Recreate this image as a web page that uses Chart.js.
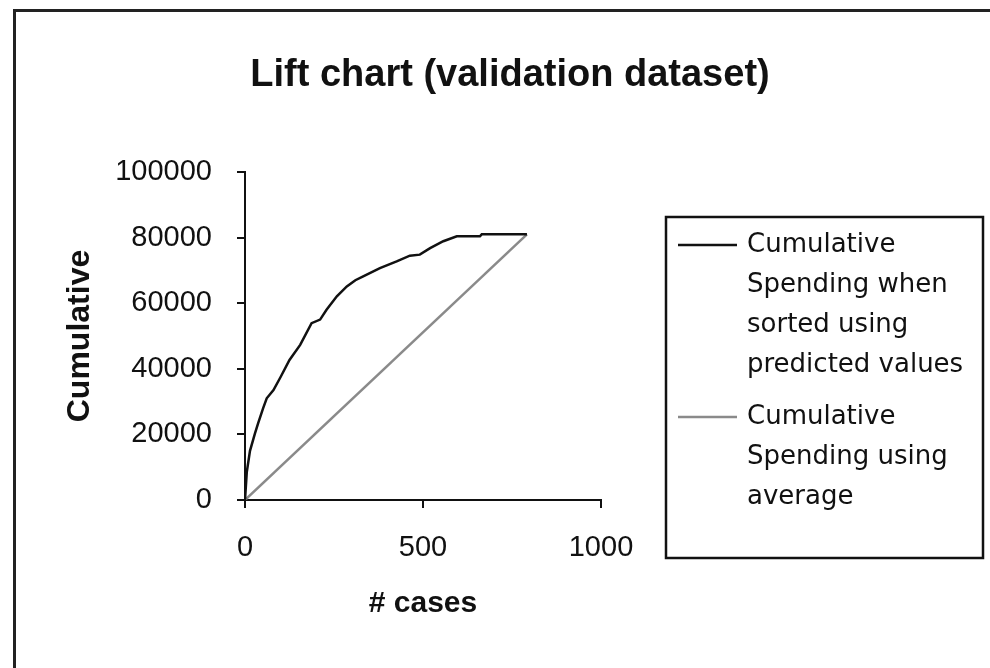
<!DOCTYPE html>
<html>
<head>
<meta charset="utf-8">
<script src="https://cdn.jsdelivr.net/npm/chart.js@4"></script>
<style>
  html, body { margin: 0; padding: 0; background: #fff; overflow: hidden; }
  #wrap { width: 990px; height: 668px; }
</style>
</head>
<body>
<div id="wrap"><canvas id="liftChart" width="990" height="668"></canvas></div>
<script>
// lift curve
const liftCases = [0, 5, 14, 28, 37, 51, 61, 80, 100, 125, 155, 187, 211, 229, 258, 286, 310, 332, 379, 426, 463, 491, 520, 557, 595, 660, 665, 792];
const liftSpend = [0, 8500, 15000, 20300, 23400, 28000, 31000, 33500, 37500, 42700, 47300, 53900, 55000, 58000, 62100, 65100, 67000, 68200, 70700, 72750, 74500, 74800, 76800, 78900, 80400, 80400, 81000, 81000];
// baseline (average) line
const avgCases = [0, 792];
const avgSpend = [0, 81000];

const chartTitle = "Lift chart (validation dataset)";
const legendLines = [
  ["Cumulative", "Spending when", "sorted using", "predicted values"],
  ["Cumulative", "Spending using", "average"]
];
const xTicks = [0, 500, 1000];
const yTicks = [0, 20000, 40000, 60000, 80000, 100000];

const pts = (xs, ys) => xs.map((x, i) => ({ x, y: ys[i] }));

// outer frame, centred title and boxed legend, excel style
const frameLegend = {
  id: "frameLegend",
  beforeDraw(chart) {
    const c = chart.ctx;
    c.save();
    c.strokeStyle = "#222";
    c.lineWidth = 3;
    c.strokeRect(14.5, 10.5, 2000, 2000);
    c.restore();
  },
  afterDraw(chart) {
    const c = chart.ctx;
    const a = chart.chartArea;
    c.save();
    // title
    c.font = "bold 38px 'Liberation Sans', Arial";
    c.fillStyle = "#111";
    c.textAlign = "center";
    c.textBaseline = "middle";
    c.fillText(chartTitle, chart.width / 2 + 15, 76);

    // legend
    const left = a.right + 65, top = a.top + 45;
    const right = chart.width - 7, bottom = a.bottom + 58;
    c.strokeStyle = "#111";
    c.lineWidth = 2.5;
    c.strokeRect(left, top, right - left, bottom - top);
    c.font = "26px 'DejaVu Sans'";
    c.textAlign = "left";
    let y = top + 28;
    chart.data.datasets.forEach((ds, i) => {
      c.strokeStyle = ds.borderColor;
      c.lineWidth = 2.5;
      c.beginPath();
      c.moveTo(left + 12, y);
      c.lineTo(left + 71, y);
      c.stroke();
      legendLines[i].forEach(t => {
        c.fillText(t, left + 81, y);
        y += 40;
      });
      y += 12;
    });
    c.restore();
  }
};

new Chart(document.getElementById("liftChart"), {
  type: "scatter",
  data: {
    datasets: [
      {
        label: legendLines[0].join(" "),
        data: pts(liftCases, liftSpend),
        showLine: true,
        borderColor: "#111",
        borderWidth: 2.5,
        pointRadius: 0,
        tension: 0
      },
      {
        label: legendLines[1].join(" "),
        data: pts(avgCases, avgSpend),
        showLine: true,
        borderColor: "#8a8a8a",
        borderWidth: 2.5,
        pointRadius: 0,
        tension: 0
      }
    ]
  },
  options: {
    responsive: false,
    animation: false,
    layout: { padding: { left: 0, top: 172, right: 389, bottom: 28 } },
    plugins: {
      legend: { display: false },
      tooltip: { enabled: false },
      title: { display: false }
    },
    scales: {
      x: {
        type: "linear",
        min: 0, max: 1000,
        afterBuildTicks: s => { s.ticks = xTicks.map(v => ({ value: v })); },
        afterFit: s => { s.height = 140; },
        ticks: {
          color: "#111",
          padding: 23,
          font: { family: "'Liberation Sans', Arial", size: 29 },
          callback: v => String(v)
        },
        grid: { drawOnChartArea: false, drawTicks: true, tickLength: 8, color: "#111", lineWidth: 2 },
        border: { display: true, color: "#111", width: 2 },
        title: {
          display: true,
          text: "# cases",
          color: "#111",
          font: { family: "'Liberation Sans', Arial", size: 30, weight: "bold" },
          padding: { top: 0, bottom: 18 }
        }
      },
      y: {
        min: 0, max: 100000,
        afterBuildTicks: s => { s.ticks = yTicks.map(v => ({ value: v })); },
        afterFit: s => { s.width = 245; },
        ticks: {
          color: "#111",
          padding: 25,
          font: { family: "'Liberation Sans', Arial", size: 29 },
          callback: v => String(v)
        },
        grid: { drawOnChartArea: false, drawTicks: true, tickLength: 8, color: "#111", lineWidth: 2 },
        border: { display: true, color: "#111", width: 2 },
        title: {
          display: true,
          text: "Cumulative",
          color: "#111",
          font: { family: "'Liberation Sans', Arial", size: 32, weight: "bold" },
          padding: { top: 61, bottom: 0 }
        }
      }
    }
  },
  plugins: [frameLegend]
});
</script>
</body>
</html>
